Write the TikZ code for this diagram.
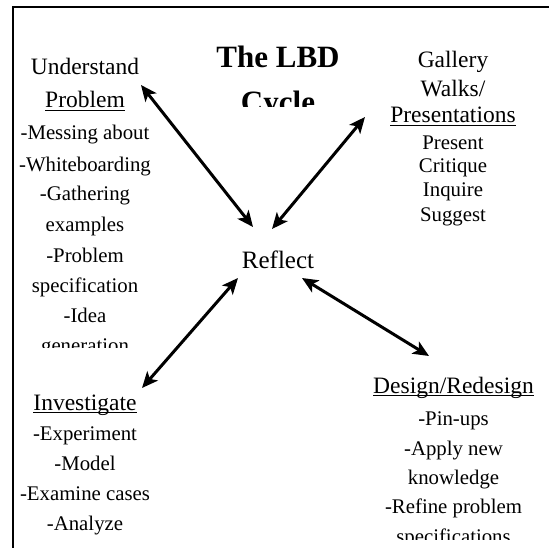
\documentclass[tikz,border=0pt]{standalone}
\usepackage{fontspec}
\setmainfont{Liberation Serif}
\usetikzlibrary{arrows.meta}
\newcommand{\myul}[1]{\setbox0\hbox{#1}\rlap{\rule[-3.3bp]{\wd0}{1.3bp}}\box0}
\tikzset{
  heading/.style={anchor=base, inner sep=0pt, font=\fontsize{23.5bp}{28bp}\selectfont},
  listitem/.style={anchor=base, inner sep=0pt, font=\fontsize{20.8bp}{25bp}\selectfont},
  titletext/.style={anchor=base, inner sep=0pt, font=\fontsize{31bp}{36bp}\selectfont\bfseries},
  dbl/.style={line width=3bp, {Stealth[length=16bp,width=14bp,inset=4bp]}-{Stealth[length=16bp,width=14bp,inset=4bp]}},
  frameline/.style={line width=2bp},
}
\begin{document}
\begin{tikzpicture}[x=1bp,y=-1bp]
\useasboundingbox (0,0) rectangle (549,548);
\draw[frameline] (549,7) -- (13,7) -- (13,548);

% title
\node[titletext] (t1) at (278,68) {The LBD};
\begin{scope}
  \clip (150,0) rectangle (400,107);
  \node[titletext] (t2) at (278,113) {Cycle};
\end{scope}

% understand problem column
\node[heading] (u1) at (85,75) {Understand};
\node[heading] (u2) at (85,108) {\myul{Problem}};
\node[listitem] (u3) at (85,140) {-Messing about};
\node[listitem] (u4) at (85,172) {-Whiteboarding};
\node[listitem] (u5) at (85,201) {-Gathering};
\node[listitem] (u6) at (85,231) {examples};
\node[listitem] (u7) at (85,262) {-Problem};
\node[listitem] (u8) at (85,292) {specification};
\node[listitem] (u9) at (85,322) {-Idea};
\begin{scope}
  \clip (0,300) rectangle (200,347);
  \node[listitem] (u10) at (85,352) {generation};
\end{scope}

% gallery column
\node[heading] (g1) at (453,68) {Gallery};
\node[heading] (g2) at (453,97) {Walks/};
\node[heading] (g3) at (453,123) {\myul{Presentations}};
\node[listitem] (g4) at (453,150) {Present};
\node[listitem] (g5) at (453,173) {Critique};
\node[listitem] (g6) at (453,197) {Inquire};
\node[listitem] (g7) at (453,221) {Suggest};

% reflect
\node[anchor=base, inner sep=0pt, font=\fontsize{25bp}{30bp}\selectfont] (r) at (278,268) {Reflect};

% investigate column
\node[heading] (i1) at (85,410) {\myul{Investigate}};
\node[listitem] (i2) at (85,440) {-Experiment};
\node[listitem] (i3) at (85,470) {-Model};
\node[listitem] (i4) at (85,500) {-Examine cases};
\node[listitem] (i5) at (85,530) {-Analyze};

% design column
\node[heading] (d1) at (453.5,393) {\myul{Design/Redesign}};
\node[listitem] (d2) at (453.5,425) {-Pin-ups};
\node[listitem] (d3) at (453.5,455) {-Apply new};
\node[listitem] (d4) at (453.5,484) {knowledge};
\node[listitem] (d5) at (453.5,513) {-Refine problem};
\begin{scope}
  \clip (300,480) rectangle (549,539);
  \node[listitem] (d6) at (453.5,543) {specifications};
\end{scope}

% arrow ends
\coordinate (aU) at (141,85);
\coordinate (aRU) at (253,227);
\coordinate (aG) at (365,117);
\coordinate (aRG) at (272,229);
\coordinate (aI) at (142,388);
\coordinate (aRI) at (238,278);
\coordinate (aD) at (429,356);
\coordinate (aRD) at (302,278);

\draw[dbl] (aU) -- (aRU);
\draw[dbl] (aG) -- (aRG);
\draw[dbl] (aI) -- (aRI);
\draw[dbl] (aD) -- (aRD);
\end{tikzpicture}
\end{document}
